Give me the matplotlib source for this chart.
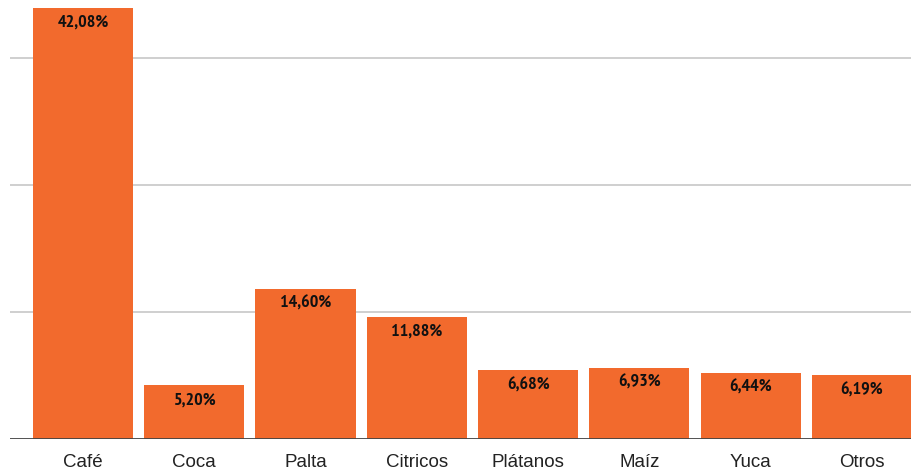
import matplotlib
matplotlib.use("Agg")
import matplotlib.pyplot as plt
from matplotlib import font_manager

categories = ["Café", "Coca", "Palta", "Citricos", "Plátanos", "Maíz", "Yuca", "Otros"]
values = [42.08, 5.20, 14.60, 11.88, 6.68, 6.93, 6.44, 6.19]
labels = ["42,08%", "5,20%", "14,60%", "11,88%", "6,68%", "6,93%", "6,44%", "6,19%"]
gridlines = [12.38, 24.77, 37.15]

candidates = ["Liberation Sans Narrow", "Arial Narrow", "PT Sans Narrow", "Archivo Narrow",
              "Roboto Condensed", "Fira Sans Condensed", "IBM Plex Sans Condensed",
              "Asap Condensed", "Barlow Semi Condensed", "Encode Sans Condensed"]
bold_names = {f.name for f in font_manager.fontManager.ttflist
              if (f.weight if isinstance(f.weight, int) else (700 if f.weight == "bold" else 400)) >= 600}
narrow = next((n for n in candidates if n in bold_names), "Liberation Sans")

fig = plt.figure(figsize=(9.12, 4.72), dpi=100)
ax = fig.add_axes([10/912, 33.5/472, 902/912, 438.5/472])
x = list(range(len(categories)))
ax.bar(x, values, width=0.9, color="#F26A2D", zorder=3)
for g in gridlines:
    ax.axhline(g, color="#CCCCCC", lw=1.3, zorder=1)
ax.axhline(0, color="#444444", lw=1.3, zorder=4)
ax.set_xlim(-0.656, 7.45)
ax.set_ylim(0, 42.82)
for s in ax.spines.values():
    s.set_visible(False)
ax.set_yticks([])
ax.set_xticks(x)
ax.set_xticklabels(categories, fontsize=13.5, family="Liberation Sans", color="#222222")
ax.tick_params(axis="x", length=0, pad=11)
for xi, v, lab in zip(x, values, labels):
    ax.annotate(lab, (xi, v), xytext=(0, -7), textcoords="offset pixels",
                ha="center", va="top", fontsize=13, fontweight="bold",
                family=narrow, color="#111111", zorder=5)
fig.savefig("out.png", dpi=100)
